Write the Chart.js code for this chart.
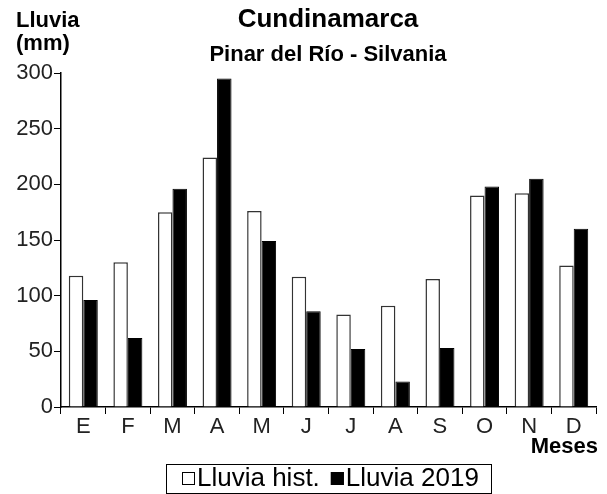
<!DOCTYPE html>
<html lang="es">
<head>
<meta charset="UTF-8">
<title>Cundinamarca</title>
<script src="https://cdn.jsdelivr.net/npm/chart.js"></script>
<style>
    body { margin: 0; background: #fff; }
    #wrap { width: 607px; height: 494px; position: relative; }
</style>
</head>
<body>
<div id="wrap"><canvas id="lluvia"></canvas></div>
<script>
// datos
const meses = ['E', 'F', 'M', 'A', 'M', 'J', 'J', 'A', 'S', 'O', 'N', 'D'];
const lluviaHist = [118, 130, 175, 224, 176, 117, 83, 91, 115, 190, 192, 127];
const lluvia2019 = [96, 62, 196, 295, 149, 86, 52, 23, 53, 198, 205, 160];
const yTicks = [0, 50, 100, 150, 200, 250, 300];

const FONT = 'Liberation Sans, Arial, sans-serif';

// textos fijos y leyenda con recuadro
const textos = {
    id: 'textos',
    afterDraw(chart) {
        const c = chart.ctx;
        c.save();
        c.fillStyle = '#000';
        c.textBaseline = 'alphabetic';
        c.textAlign = 'center';
        c.font = 'bold 26px ' + FONT;
        c.fillText('Cundinamarca', 328, 27);
        c.font = 'bold 22px ' + FONT;
        c.fillText('Pinar del Río - Silvania', 328, 61);
        c.textAlign = 'left';
        c.font = 'bold 22px ' + FONT;
        c.fillText('Lluvia', 16, 27);
        c.fillText('(mm)', 16, 50);
        c.textAlign = 'right';
        c.fillText('Meses', 598, 453);

        // leyenda
        const x0 = 166, y0 = 464, w = 325, h = 29;
        c.lineWidth = 1;
        c.strokeStyle = '#000';
        c.strokeRect(x0 + 0.5, y0 + 0.5, w, h);
        c.font = '26px ' + FONT;
        c.textAlign = 'left';
        let x = x0 + 16;
        chart.data.datasets.forEach(ds => {
            c.fillStyle = ds.backgroundColor;
            c.fillRect(x, y0 + 8, 13, 13);
            c.strokeStyle = '#000';
            c.strokeRect(x + 0.5, y0 + 8.5, 12, 12);
            c.fillStyle = '#000';
            c.fillText(ds.label, x + 15, y0 + 22);
            x += 15 + c.measureText(ds.label).width + 11;
        });
        c.restore();
    }
};

new Chart(document.getElementById('lluvia'), {
    type: 'bar',
    data: {
        labels: meses,
        datasets: [{
            label: 'Lluvia hist.',
            data: lluviaHist,
            backgroundColor: '#fff',
            borderColor: '#333',
            borderWidth: 1.5
        }, {
            label: 'Lluvia 2019',
            data: lluvia2019,
            backgroundColor: '#000',
            borderColor: '#000',
            borderWidth: 1
        }]
    },
    options: {
        responsive: true,
        maintainAspectRatio: false,
        animation: false,
        layout: { padding: { top: 73, left: 0, right: 11, bottom: 57 } },
        categoryPercentage: 0.65,
        barPercentage: 1,
        plugins: {
            legend: { display: false },
            tooltip: { enabled: false }
        },
        scales: {
            x: {
                afterFit: s => { s.height = 30; },
                grid: { offset: true, drawOnChartArea: false, tickLength: 7, color: '#000', lineWidth: 1 },
                border: { color: '#000', width: 1.5 },
                ticks: { color: '#222', font: { family: FONT, size: 22 }, padding: 0 }
            },
            y: {
                min: 0,
                max: 300,
                afterFit: s => { s.width = 61; },
                afterBuildTicks: s => { s.ticks = yTicks.map(v => ({ value: v })); },
                grid: { drawOnChartArea: false, tickLength: 7, color: '#000', lineWidth: 1 },
                border: { color: '#000', width: 1.5 },
                ticks: { color: '#222', font: { family: FONT, size: 22 }, padding: 1 }
            }
        }
    },
    plugins: [textos]
});
</script>
</body>
</html>
